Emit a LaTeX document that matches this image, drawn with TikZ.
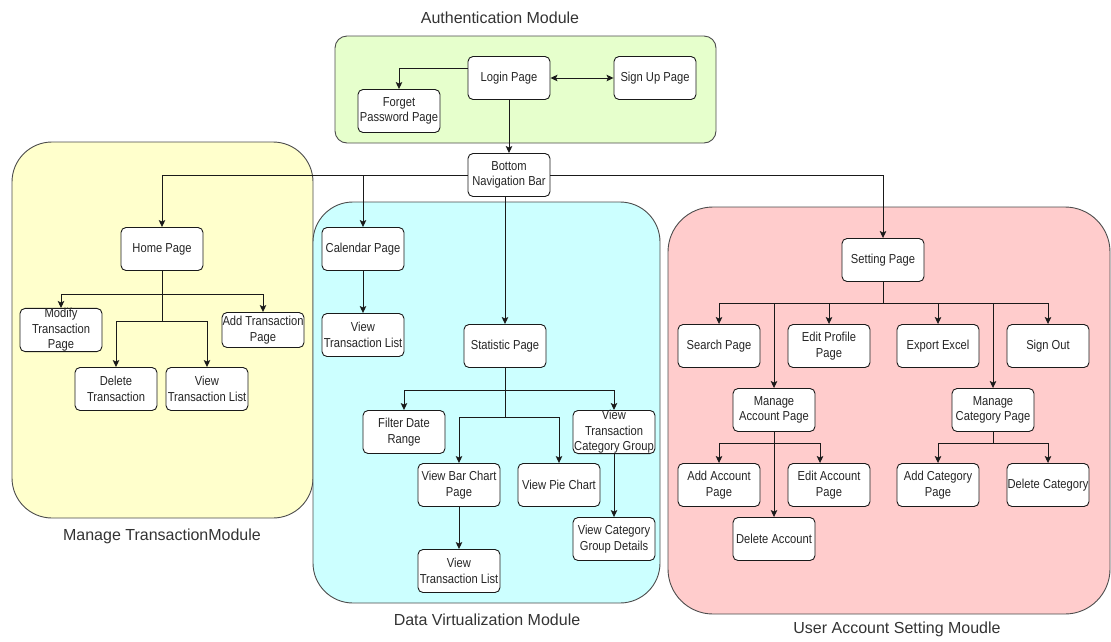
\documentclass[tikz,border=0pt]{standalone}
\usepackage{fontspec}
\setmainfont{Liberation Sans}
\newfontfamily\nodefont{Liberation Sans}[FakeStretch=0.86]
\usetikzlibrary{arrows.meta}
\definecolor{authfill}{HTML}{E6FFCC}
\definecolor{transfill}{HTML}{FFFFCC}
\definecolor{datafill}{HTML}{CCFFFF}
\definecolor{userfill}{HTML}{FFCCCC}
\definecolor{edgecol}{HTML}{1A1A1A}
\begin{document}
\begin{tikzpicture}[x=1pt,y=-1pt,
  page/.style={draw=edgecol, fill=white, rounded corners=5pt, minimum width=82pt,
    minimum height=43pt, inner sep=0.5pt, align=center,
    font=\nodefont\fontsize{13}{15.5}\selectfont, text=black!85, line width=0.9pt},
  module/.style={draw=black!70, line width=0.9pt},
  modlabel/.style={font=\fontsize{16}{18}\selectfont, text=black!80},
  arr/.style={draw=edgecol, -{Stealth[length=7pt,width=6.5pt,inset=1.5pt]}, line width=0.9pt},
  duo/.style={draw=edgecol, {Stealth[length=7pt,width=6.5pt,inset=1.5pt]}-{Stealth[length=7pt,width=6.5pt,inset=1.5pt]}, line width=0.9pt},
  ]
\useasboundingbox (0,0) rectangle (1111,641);

% module containers
\draw[module, fill=authfill, rounded corners=12pt] (335,36) rectangle (716,143);
\draw[module, fill=transfill, rounded corners=40pt] (12,142) rectangle (313,518);
\draw[module, fill=datafill, rounded corners=40pt] (313,202) rectangle (660,603);
\draw[module, fill=userfill, rounded corners=45pt] (668,207) rectangle (1110,614);

% module titles
\node[modlabel] (authlabel) at (500,18) {Authentication Module};
\node[modlabel] (translabel) at (162,536) {Manage TransactionModule};
\node[modlabel] (datalabel) at (487,620) {Data Virtualization Module};
\node[modlabel] (userlabel) at (897,629) {User Account Setting Moudle};

% authentication
\node[page] (login) at (509,78) {Login Page};
\node[page] (signup) at (655,78) {Sign Up Page};
\node[page] (forget) at (399,111) {Forget\\Password Page};
\node[page] (nav) at (509,175) {Bottom\\Navigation Bar};

% transactions
\node[page] (home) at (162,249) {Home Page};
\node[page, minimum height=35pt, inner sep=0pt] (modify) at (61,330) {Modify\\Transaction\\Page};
\node[page, minimum height=35pt] (addtr) at (263,330) {Add Transaction\\Page};
\node[page] (deltr) at (116,389) {Delete\\Transaction};
\node[page] (viewtr) at (207,389) {View\\Transaction List};

% data visualisation
\node[page] (cal) at (363,249) {Calendar Page};
\node[page] (calview) at (363,335) {View\\Transaction List};
\node[page] (stat) at (505,346) {Statistic Page};
\node[page] (filter) at (404,432) {Filter Date\\Range};
\node[page, inner sep=0pt] (catgroup) at (614,432) {View\\Transaction\\Category Group};
\node[page] (bar) at (459,485) {View Bar Chart\\Page};
\node[page] (pie) at (559,485) {View Pie Chart};
\node[page] (catdetail) at (614,539) {View Category\\Group Details};
\node[page] (barview) at (459,571) {View\\Transaction List};

% user account settings
\node[page] (setting) at (883,260) {Setting Page};
\node[page] (search) at (719,346) {Search Page};
\node[page] (profile) at (829,346) {Edit Profile\\Page};
\node[page] (export) at (938,346) {Export Excel};
\node[page] (signout) at (1048,346) {Sign Out};
\node[page] (macc) at (774,410) {Manage\\Account Page};
\node[page] (mcat) at (993,410) {Manage\\Category Page};
\node[page] (addacc) at (719,485) {Add Account\\Page};
\node[page] (editacc) at (829,485) {Edit Account\\Page};
\node[page] (delacc) at (774,539) {Delete Account};
\node[page] (addcat) at (938,485) {Add Category\\Page};
\node[page] (delcat) at (1048,485) {Delete Category};

% authentication links
\draw[arr] ([yshift=10pt]login.west) -| (forget.north);
\draw[duo] (login.east) -- (signup.west);
\draw[arr] (login.south) -- (nav.north);

% navigation bar links
\draw[arr] (nav.west) -| (home.north);
\draw[arr] (nav.west) -| (cal.north);
\draw[arr] (nav.east) -| (setting.north);
\draw[arr] (stat.north |- nav.south) -- (stat.north);

% transaction links
\draw[arr] (home.south) -- ++(0,23) -| (modify.north);
\draw[arr] (home.south) -- ++(0,23) -| (addtr.north);
\draw[arr] (home.south) -- ++(0,50) -| (deltr.north);
\draw[arr] (home.south) -- ++(0,50) -| (viewtr.north);

% data visualisation links
\draw[arr] (cal.south) -- (calview.north);
\draw[arr] (stat.south) -- ++(0,22) -| (filter.north);
\draw[arr] (stat.south) -- ++(0,22) -| (catgroup.north);
\draw[arr] (stat.south) -- ++(0,49) -| (bar.north);
\draw[arr] (stat.south) -- ++(0,49) -| (pie.north);
\draw[arr] (bar.south) -- (barview.north);
\draw[arr] (catgroup.south) -- (catdetail.north);

% user account setting links
\draw[arr] (setting.south) -- ++(0,21) -| (search.north);
\draw[arr] (setting.south) -- ++(0,21) -| (profile.north);
\draw[arr] (setting.south) -- ++(0,21) -| (export.north);
\draw[arr] (setting.south) -- ++(0,21) -| (signout.north);
\draw[arr] (setting.south) -- ++(0,21) -| (macc.north);
\draw[arr] (setting.south) -- ++(0,21) -| (mcat.north);
\draw[arr] (macc.south) -- ++(0,11) -| (addacc.north);
\draw[arr] (macc.south) -- ++(0,11) -| ([xshift=-9pt]editacc.north);
\draw[arr] (macc.south) -- (delacc.north);
\draw[arr] (mcat.south) -- ++(0,11) -| (addcat.north);
\draw[arr] (mcat.south) -- ++(0,11) -| (delcat.north);
\end{tikzpicture}
\end{document}
